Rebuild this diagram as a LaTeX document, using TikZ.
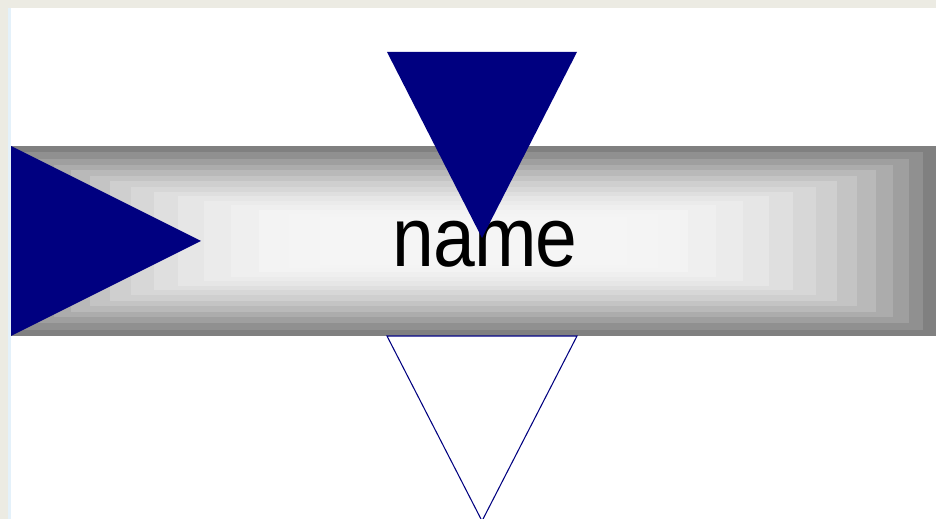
\documentclass[tikz,border=0pt]{standalone}
\usepackage{fontspec}
\setmainfont{Liberation Sans}
\usepackage{tikz}
\usetikzlibrary{positioning,calc}
\definecolor{bleuMarine}{RGB}{0,0,128}
\definecolor{fondBeige}{RGB}{236,235,227}
\definecolor{bordBleu}{RGB}{228,241,250}

\tikzset{
  portplein/.style={fill=bleuMarine, draw=none},
  portvide/.style={fill=white, draw=bleuMarine, line width=0.6pt, line join=miter},
  etiquette/.style={font=\fontsize{48}{50}\selectfont, text=black, inner sep=0pt}
}
\newcommand{\serre}{\kern-0.6pt}

\begin{document}
\begin{tikzpicture}[x=0.02cm, y=-0.02cm]

% fond et cadre
\fill[fondBeige] (0,0) rectangle (936,519);
\useasboundingbox (0,0) rectangle (936,519);
\fill[bordBleu] (8,8) rectangle (11,519);
\fill[white] (11,8) rectangle (936,519);

% barre en degrade
\coordinate (barreHG) at (11,146);
\coordinate (barreBD) at (936,336);
\foreach \i in {0,...,14}{
  \pgfmathsetmacro{\dh}{12.3*\i+0.7*\i*\i}
  \pgfmathsetmacro{\dv}{6.5*\i-0.1*\i*\i}
  \pgfmathsetmacro{\lum}{50+46*(1-(1-\i/14)^2)}
  \fill[white!\lum!black] ($(barreHG)+(\dh,\dv)$) rectangle ($(barreBD)+(-\dh,-\dv)$);
}

% ports
\fill[portplein] (11,146) -- (11,336) -- (201,241) -- cycle;
\node[etiquette, anchor=base] (nom) at (485,267)
  {\scalebox{0.89}[1]{n\serre a\serre m\serre e}};
\fill[portplein] (387,52) -- (577,52) -- (482,238) -- cycle;
\draw[portvide] (387,336) -- (577,336) -- (482,521) -- cycle;

\end{tikzpicture}
\end{document}
